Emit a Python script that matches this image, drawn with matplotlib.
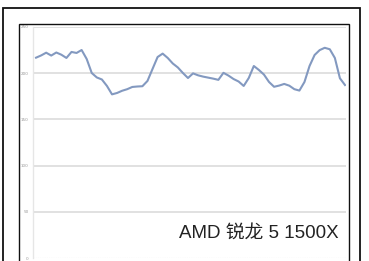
import matplotlib
matplotlib.use("Agg")
import matplotlib.pyplot as plt
from matplotlib.patches import Rectangle

values = [216.8, 219.2, 222.2, 219.1, 222.4, 220.0, 216.5, 223.0, 221.9, 225.1,
          215.4, 200.2, 195.4, 193.2, 186.2, 177.1, 178.6, 181.0, 182.7, 185.1,
          185.6, 185.9, 191.6, 204.6, 217.5, 221.2, 216.5, 210.5, 206.2, 200.2,
          194.8, 199.8, 197.7, 196.3, 195.2, 194.1, 192.8, 200.4, 197.4, 193.7,
          191.0, 186.2, 194.8, 207.8, 203.5, 198.5, 190.5, 185.3, 186.6, 188.4,
          186.5, 182.7, 181.2, 190.5, 207.8, 219.7, 225.0, 227.5, 225.9, 216.5,
          194.5, 187.2]
y_ticks = [0, 50, 100, 150, 200, 250]
label = "AMD 锐龙 5 1500X"

W, H = 369, 261
fig = plt.figure(figsize=(W / 100, H / 100), dpi=100)
fig.patch.set_facecolor("white")

def fx(px):
    return px / W

def fy(py):
    return 1 - py / H

# outer and inner frames
fig.add_artist(Rectangle((fx(3), fy(275)), fx(360) - fx(3), fy(8) - fy(275),
                         transform=fig.transFigure, fill=False, ec="#111111", lw=1.3))
fig.add_artist(Rectangle((fx(19), fy(275)), fx(349) - fx(19), fy(24) - fy(275),
                         transform=fig.transFigure, fill=False, ec="#111111", lw=1.0))

ax = fig.add_axes([fx(33), fy(258), fx(346) - fx(33), fy(27) - fy(258)])
ax.set_facecolor("none")
n = len(values)
ax.plot(range(n), values, color="#8399c0", lw=1.5, solid_joinstyle="round")
ax.set_ylim(0, 250)
ax.set_xlim(-0.6, n - 1 + 0.2)
for t in y_ticks[1:]:
    ax.axhline(t, color="#dcdcdc", lw=1.2, zorder=0)
ax.axhline(0, color="#c8c8c8", lw=0.8, ls=(0, (1, 1)), zorder=0)
ax.set_yticks(y_ticks)
ax.set_yticklabels([str(t) for t in y_ticks], fontsize=3, color="#999999")
ax.tick_params(axis="y", length=0, pad=3)
ax.set_xticks([])
for s in ["top", "right", "bottom"]:
    ax.spines[s].set_visible(False)
ax.spines["left"].set_color("#e6e6e6")
ax.spines["left"].set_linewidth(1.0)

fig.text(fx(339), fy(238), label, ha="right", va="baseline", fontsize=13.5,
         color="#222222", family=["Liberation Sans", "Noto Sans CJK SC"])

fig.savefig("out.png", dpi=100)
